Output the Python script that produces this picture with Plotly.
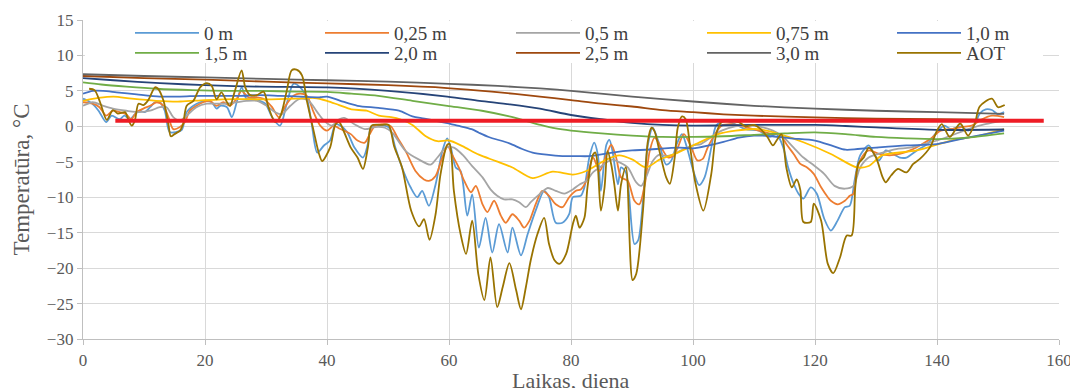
import plotly.graph_objects as go

# ---------------- data ----------------
series_names = ["0 m", "0,25 m", "0,5 m", "0,75 m", "1,0 m",
                "1,5 m", "2,0 m", "2,5 m", "3,0 m", "AOT"]

d_0m = [0, 0.8, 1.9, 2.7, 3.8, 4.7, 6, 6.8, 7.7, 8.5, 9.3, 10.1, 11, 11.8, 12.6, 13.4, 14.2, 15.3, 16.2, 17,
        18.1, 19.2, 20.3, 21.1, 21.9, 22.5, 23.6, 24.4, 25.2, 26, 26.8, 28, 29, 29.9, 31, 32.3, 33.4, 34.5,
        35.6, 36.7, 37.5, 38.4, 39.5, 40.5, 41.4, 42.2, 43.3, 44.5, 45.9, 46.7, 47.3, 49.5, 50.3, 51.2, 52.3,
        53.7, 54.8, 55.6, 56.7, 57.8, 58.9, 59.7, 60.3, 61.1, 61.9, 63, 63.8, 64.9, 66, 67.1, 68.2, 69.6,
        70.4, 71.8, 72.9, 74.2, 75.6, 76.4, 77.5, 78.6, 79.7, 80.3, 81.6, 82.2, 83, 83.8, 84.4, 84.9, 85.8,
        86.3, 86.8, 87.7, 88.2, 89, 90.4, 91, 91.8, 92.6, 93.4, 94.5, 95.6, 96.4, 97.3, 98.2, 99, 100.2,
        101, 101.9, 103, 103.8, 105.2, 106.9, 108.6, 110.8, 112.5, 113.7, 114.8, 115.6, 116.5, 117.3, 118.1,
        119.3, 120.3, 121.5, 122.6, 123.7, 124.9, 125.7, 126.5, 127.4, 128.8, 129.7, 130.5, 131.6, 132.8,
        133.9, 135, 136.7, 138.4, 140, 141.2, 142.3, 143.8, 145.1, 146.2, 147, 148, 149, 150, 151]
v_0m = [3.9, 3.6, 2.9, 2.0, 0.6, 1.5, 1.0, 1.5, 1.0, 1.7, 2.2, 2.0, 2.7, 3.4, 3.4, 2.2, -0.8, -0.8, -0.5, 2.0,
        2.9, 3.4, 3.6, 3.4, 2.5, 2.9, 2.7, 1.3, 3.4, 5.5, 3.9, 3.9, 3.6, 3.2, 1.3, 0.1, 3.2, 6.0,
        5.5, 3.9, 0.3, -3.7, -2.7, -2.0, 0.3, 0.1, -0.8, -3.0, -4.4, -2.5, 0.0, 0.1, -0.3, -3.0, -5.8,
        -8.6, -10.0, -9.1, -11.2, -8.2, -3.5, -1.7, -3.0, -5.8, -6.3, -12.6, -9.6, -17.1, -12.9, -17.8, -13.8, -17.8,
        -14.3, -18.2, -15.2, -11.9, -9.1, -10.0, -13.6, -13.6, -12.4, -10.0, -9.8, -8.6, -4.4, -2.3, -4.0, -9.1, -2.6,
        -1.9, -3.5, -8.2, -5.8, -6.5, -16.6, -16.1, -10.5, -2.6, -0.2, -2.6, -5.4, -4.9, -2.6, -1.1, -3.0, -6.7,
        -8.3, -7.2, -3.0, 0.1, 0.8, 0.3, -0.4, -0.6, -1.5, -1.1, -3.0, -5.8, -8.1, -9.5, -10.2,
        -8.6, -9.5, -13.0, -14.7, -13.3, -11.4, -11.2, -7.6, -4.1, -2.7, -3.9, -4.8, -3.4, -3.9,
        -4.4, -4.4, -3.4, -2.5, -0.8, 0.1, -0.4, 0.0, -0.6, 0.3, 1.8, 2.4, 2.3, 1.7, 2.0]

d_025 = [0, 1.6, 2.7, 3.8, 4.9, 6, 7.1, 7.9, 8.8, 9.9, 11, 12.1, 13.2, 14, 14.8, 15.9, 16.7, 17.5, 18.6, 19.7,
         20.8, 21.9, 23, 24.1, 25.2, 26, 27.1, 28.5, 29.6, 31, 32.1, 33.2, 34.5, 35.6, 36.7, 37.8, 38.9, 40,
         41.1, 42, 43.9, 45, 46.2, 47, 47.9, 49.5, 50.5, 51.5, 52.9, 54.5, 55.9, 56.7, 57.8, 58.9, 59.8, 60.5,
         61.6, 62.5, 63.6, 64.4, 65.5, 66.3, 67.4, 68.5, 69.3, 70.4, 71.5, 72.3, 73.2, 74.2, 75.3, 76.4, 77.5,
         78.6, 79.7, 80.8, 81.6, 82.5, 83.6, 84.7, 85.8, 86.6, 87.4, 88.2, 89.3, 90.4, 91.2, 92.1, 92.9, 93.7,
         94.8, 95.9, 96.7, 97.5, 98.5, 99.6, 100.7, 101.6, 102.4, 103.6, 104.7, 106.3, 108.6, 110.8, 113.1,
         114.2, 115.3, 116.5, 117.6, 118.7, 119.8, 121, 122.1, 122.6, 123.7, 124.9, 125.7, 126.3, 126.8, 127.4,
         128.8, 130.5, 132.2, 133.9, 135.6, 137.2, 138.9, 140.6, 142.3, 144, 145.7, 147.4, 149, 151]
v_025 = [3.4, 3.2, 2.7, 1.5, 2.2, 2.0, 1.7, 1.0, 2.0, 2.5, 2.9, 3.4, 2.9, 1.3, -0.4, -0.1, 0.6, 2.2, 2.9, 3.4,
         3.6, 2.9, 3.4, 2.9, 3.9, 5.0, 4.1, 4.1, 3.9, 2.7, 1.3, 2.9, 4.3, 4.6, 4.3, 2.0, 0.1, -0.6,
         0.1, -0.3, -1.1, -2.0, -2.3, -1.1, 0.1, 0.3, 0.0, -1.5, -3.5, -6.3, -7.5, -7.7, -7.0, -4.4, -2.8, -4.0,
         -5.8, -7.7, -9.3, -8.4, -11.0, -12.1, -10.5, -12.6, -13.6, -12.4, -13.3, -14.3, -13.3, -11.0, -9.1, -9.8, -11.0,
         -11.4, -10.0, -9.1, -8.9, -7.7, -4.4, -6.3, -4.0, -2.6, -4.4, -7.2, -7.7, -10.5, -11.0, -8.2, -3.5, -1.6,
         -3.0, -4.4, -4.2, -3.0, -1.1, -2.7, -4.8, -4.6, -3.0, -1.1, 0.1, 0.3, -0.1, -0.6, -1.1,
         -1.1, -2.5, -3.9, -5.3, -5.8, -6.7, -8.6, -10.0, -10.5, -11.0, -10.5, -9.8, -9.5, -6.5, -4.8,
         -3.4, -3.9, -4.1, -3.9, -3.4, -2.7, -1.8, -0.6, -0.4, -0.1, 0.1, 1.0, 1.5, 1.3]

d_05 = [0, 1.6, 3.3, 4.9, 7.1, 9.3, 11, 12.6, 13.7, 14.8, 15.9, 17, 18.6, 20.3, 21.9, 23.6, 25.2, 26.8, 28.5,
        30.1, 31.5, 32.6, 34, 35.6, 37, 38.4, 39.5, 40.8, 42, 42.8, 44.5, 46.2, 47.9, 49.5, 50.7, 52.9, 55.1,
        57, 58.1, 59.5, 60.8, 62.2, 63.8, 65.5, 66.8, 67.9, 69, 70.4, 71.5, 72.6, 73.4, 74.8, 76.2, 77.5,
        78.9, 80.3, 81.4, 82.5, 83.6, 84.7, 85.8, 86.8, 88, 89.3, 90.7, 91.5, 92.3, 93.4, 94.5, 95.6, 96.7,
        97.8, 100, 101.3, 103, 104.7, 106.9, 109.7, 113.1, 114.8, 116.5, 118.1, 119.8, 121.5, 123.2, 124.9,
        126.3, 127.4, 128.8, 131.1, 133.3, 135.6, 137.8, 140, 142.3, 145.1, 147.9, 151]
v_05 = [2.9, 3.4, 2.9, 2.5, 2.2, 2.0, 2.2, 2.7, 2.7, 1.3, 0.8, 1.5, 2.7, 3.2, 3.2, 3.2, 3.4, 3.6, 3.6,
        2.9, 2.0, 1.7, 2.9, 3.9, 3.6, 2.0, 0.8, 0.1, 1.0, 1.2, 0.3, -0.4, -0.1, -0.2, -0.9, -3.5, -4.7,
        -5.4, -4.4, -3.0, -3.0, -4.0, -5.6, -7.2, -8.9, -9.8, -10.3, -10.3, -10.7, -11.4, -10.7, -9.6, -8.7, -9.1,
        -9.5, -8.9, -8.2, -7.7, -6.5, -5.8, -5.1, -4.7, -5.1, -5.8, -7.9, -8.4, -7.2, -4.9, -4.0, -4.2, -4.0,
        -3.5, -2.7, -2.5, -1.5, -0.6, 0.0, 0.1, -0.6, -1.5, -3.0, -4.4, -5.5, -6.7, -8.4, -8.8,
        -8.4, -5.8, -4.4, -3.7, -3.2, -3.0, -2.5, -2.0, -1.3, -0.4, 0.3, 0.8]

d_075 = [0, 2.5, 5, 8, 12, 16, 20, 25, 30, 35, 38, 40, 42, 44, 46.5, 48.5, 50.5, 52, 54, 56.2, 58.1, 60,
         62.2, 64.9, 67.7, 70.4, 73.7, 77, 80.3, 82.5, 85.8, 87.9, 90.1, 92.3, 94.5, 96.7, 100, 104.1, 107,
         110.8, 114.2, 118.1, 122.6, 126.9, 128.8, 131, 136.7, 142.3, 147, 151]
v_075 = [3.6, 4.0, 4.2, 3.9, 3.6, 3.5, 3.7, 3.85, 3.8, 3.9, 4.0, 3.6, 3.0, 2.4, 2.2, 1.5, 1.3, 1.0, 0.2, -1.4,
         -2.1, -2.0, -2.8, -4.0, -4.9, -5.8, -7.3, -6.4, -6.8, -6.3, -4.7, -4.1, -4.7, -5.8, -4.7, -4.0, -2.7,
         -1.1, -0.6, -0.4, -1.1, -2.25, -3.9, -5.8, -5.6, -4.1, -3.4, -2.0, -1.3, -0.4]

d_10 = [0, 1.6, 3.3, 5.5, 8.8, 12.6, 15.9, 19.2, 22.5, 25.8, 29, 32.3, 35.6, 38.9, 40, 42.2, 45, 48.4, 51.8,
        54, 56, 59.5, 61.4, 63.7, 64.9, 66.5, 69.9, 72, 73.7, 76, 78.6, 81, 83, 86.8, 90, 92.3, 97.8, 100,
        103, 105, 107.5, 110, 113, 116, 120, 123, 125, 127, 130, 135, 140, 145, 151]
v_10 = [4.6, 5.0, 5.0, 4.8, 4.5, 4.2, 4.2, 4.3, 4.3, 4.3, 4.4, 4.3, 4.2, 4.1, 4.2, 3.6, 2.9, 2.6, 2.2,
        1.4, 1.1, 0.5, 0.1, -0.4, -0.9, -1.5, -2.4, -3.2, -3.7, -4.0, -4.2, -4.2, -4.2, -3.7, -3.4, -3.3, -3.0, -3.1,
        -2.6, -2.2, -1.6, -1.3, -1.4, -1.7, -2.0, -2.8, -3.3, -3.2, -3.0, -2.7, -2.5, -1.6, -0.6]

d_15 = [0, 3, 7.1, 12, 18, 24, 29, 35, 40, 44, 48.4, 54, 59.7, 65.4, 69.9, 72.5, 75, 77.5, 80, 85, 90, 95,
        100, 105, 110, 115, 120, 125, 130, 135, 140, 145, 151]
v_15 = [6.2, 5.9, 5.6, 5.3, 5.1, 5.0, 5.0, 4.9, 4.85, 4.6, 4.3, 3.6, 2.9, 2.2, 1.4, 0.8, 0.2, -0.3, -0.6, -1.0,
        -1.3, -1.5, -1.5, -1.4, -1.2, -1.0, -0.85, -1.1, -1.5, -1.7, -1.8, -1.6, -1.0]

d_20 = [0, 5, 12.6, 20, 29, 40, 50, 59.7, 65, 70, 74.9, 80, 85, 90, 95, 100, 110, 120, 125, 130, 140, 151]
v_20 = [6.8, 6.5, 6.1, 5.8, 5.6, 5.5, 5.0, 4.2, 3.6, 3.1, 2.5, 1.6, 1.0, 0.5, 0.2, 0.1, 0.2, 0.2, 0.05, -0.15,
        -0.5, -0.45]

d_25 = [0, 10, 20, 30, 40, 50, 59.7, 67, 74.9, 80, 85, 90, 95, 100, 105, 110, 120, 130, 140, 151]
v_25 = [7.1, 6.8, 6.6, 6.3, 6.05, 5.8, 5.4, 4.9, 4.2, 3.7, 3.2, 2.8, 2.3, 2.0, 1.7, 1.5, 1.25, 1.1, 1.0, 0.9]

d_30 = [0, 10, 20, 30, 40, 50, 60, 68, 74.9, 80, 90, 100, 110, 120, 130, 140, 151]
v_30 = [7.35, 7.1, 6.9, 6.7, 6.5, 6.3, 6.0, 5.7, 5.35, 5.0, 4.2, 3.5, 2.9, 2.5, 2.2, 2.0, 1.75]

d_aot = [1, 1.9, 2.8, 3.9, 4.9, 5.7, 6.9, 7.4, 8.0, 8.5, 9.1, 9.9, 10.7, 11.8, 12.3, 13.2, 14.0, 14.4, 15,
         15.9, 16.4, 17, 18.1, 19.2, 20.3, 21.1, 21.9, 22.7, 23.6, 24.1, 24.9, 26, 26.6, 27.4, 28.5, 29.6,
         30.4, 31.5, 32.3, 33.4, 34.2, 35, 35.9, 36.7, 37.8, 38.7, 39.2, 40.5, 41.4, 42, 42.8, 43.9, 45, 45.9,
         46.7, 47.3, 49, 50.1, 51, 52.3, 53.8, 55.1, 55.9, 56.8, 57.8, 58.6, 59.7, 60.1, 60.8, 61.9, 62.8,
         63.8, 64.8, 65.8, 66.8, 67.9, 68.8, 69.9, 71, 71.8, 72.6, 73.4, 74.5, 75.6, 76.4, 77.3, 78.1, 79.2,
         80.3, 80.8, 81.4, 82.2, 82.7, 83.6, 84, 84.4, 84.9, 85.5, 86, 86.6, 87.1, 87.7, 88.2, 89, 90.1, 90.7,
         91.8, 92.6, 93.2, 93.7, 94.5, 95.6, 96.2, 97, 97.5, 98.2, 98.8, 99.6, 100.4, 101.7, 103, 103.8,
         104.7, 105.5, 107.5, 108.6, 110, 111.1, 112.2, 113.1, 113.7, 114.5, 115.3, 116.2, 117, 117.6, 118.1,
         119.3, 119.8, 121, 122.1, 123, 124.1, 125.2, 126, 126.6, 127.1, 128, 128.8, 130, 131.1, 131.6,
         132.5, 133.6, 135, 136.1, 137.2, 138.9, 140, 140.8, 142.1, 143.8, 145.1, 146.2, 147, 149, 150, 151.1]
v_aot = [5.3, 5.1, 3.4, 0.9, 2.3, 1.8, 2.0, 1.0, 0.1, 0.8, 3.2, 3.0, 3.7, 5.5, 5.3, 3.6, 0.3, -1.4, -1.1,
         -0.6, 0.3, 2.9, 3.6, 5.5, 6.1, 5.7, 3.8, 4.8, 3.4, 2.9, 5.0, 7.9, 5.5, 4.4, 4.4, 4.9,
         2.7, 0.6, 1.3, 5.0, 7.9, 8.0, 7.2, 3.6, -0.6, -3.9, -4.9, -3.0, 0.3, 0.6, -0.8, -3.0, -4.4, -6.0,
         -3.0, 0.1, 0.2, 0.2, -2.8, -5.8, -11.9, -14.1, -13.1, -16.0, -12.4, -6.8, -2.6, -2.5, -9.1, -15.2, -18.0,
         -13.3, -20.8, -24.5, -18.5, -25.5, -22.7, -19.3, -23.1, -25.8, -22.7, -18.9, -15.2, -12.9, -16.6, -18.9, -19.4, -18.0,
         -13.8, -12.6, -14.3, -12.9, -8.6, -4.0, -3.7, -5.8, -11.9, -8.6, -3.5, -5.4, -8.2, -11.9, -8.2, -5.8, -21.7, -20.8,
         -11.9, -2.1, -0.2, -0.7, -3.5, -7.2, -8.1, -4.4, -0.2, 1.4, 1.0, -3.4, -8.0, -11.9, -6.7, -1.1,
         0.6, 0.7, 0.6, 0.0, 0.2, -0.4, -1.5, -2.7, -2.0, -1.1, -5.8, -8.6, -7.5, -9.0, -13.5,
         -13.5, -10.9, -13.3, -19.4, -20.7, -18.5, -15.4, -15.4, -8.6, -5.3, -4.4, -3.0, -4.4, -7.2, -7.9,
         -6.9, -6.0, -6.5, -5.3, -4.6, -2.9, -0.6, 0.3, -1.5, 0.4, -1.3, 0.4, 2.8, 3.9, 2.7, 3.0]

# red threshold line
red_days = [5.3, 157.5]
red_vals = [0.8, 0.8]

x_ticks = [0, 20, 40, 60, 80, 100, 120, 140, 160]
y_ticks = [-30, -25, -20, -15, -10, -5, 0, 5, 10, 15]

days = [d_0m, d_025, d_05, d_075, d_10, d_15, d_20, d_25, d_30, d_aot]
vals = [v_0m, v_025, v_05, v_075, v_10, v_15, v_20, v_25, v_30, v_aot]
colors = ["#5B9BD5", "#ED7D31", "#A5A5A5", "#FFC000", "#4472C4",
          "#70AD47", "#264478", "#9E480E", "#636363", "#997300"]

# ---------------- figure ----------------
# the page body adds an 8 px offset; target screen positions are compensated here
OFF = 8
W, H = 1078, 388
ML = 83 - OFF          # plot left on screen = 83
MT = 20 - OFF          # plot top on screen = 20
PR = 1059 - OFF        # plot right on screen = 1059
PB = 339 - OFF         # plot bottom on screen = 339
MR = W - PR
MB = H - PB
pw = PR - ML
ph = PB - MT

fig = go.Figure()
FONT = "'Liberation Serif', 'DejaVu Serif', 'Noto Serif', serif"

for i, (name, dx, vy, col) in enumerate(zip(series_names, days, vals, colors)):
    fig.add_trace(go.Scatter(
        x=dx, y=vy, name=name, mode="lines",
        line=dict(color=col, width=1.8, shape="spline", smoothing=0.8),
        legend="legend" if i == 0 else f"legend{i+1}",
    ))

fig.add_trace(go.Scatter(x=red_days, y=red_vals, mode="lines", showlegend=False,
                         line=dict(color="#EE1C25", width=4)))

# legend placement: 5 columns x 2 rows (screen px of the legend line start / row centre)
col_px = [135, 325, 516, 707, 897]
row_py = [33, 53]
leg_layout = {}
for i in range(10):
    r, c = divmod(i, 5)
    lx = (col_px[c] - OFF - 5 - ML) / pw
    ly = 1 - (row_py[r] - OFF - MT) / ph
    key = "legend" if i == 0 else f"legend{i+1}"
    leg_layout[key] = dict(
        x=lx, y=ly, xanchor="left", yanchor="middle",
        orientation="h", bgcolor="rgba(0,0,0,0)", borderwidth=0,
        itemwidth=64, font=dict(family=FONT, size=19, color="#404040"),
    )

fig.update_layout(**leg_layout)

# white legend box
fig.add_shape(type="rect", xref="paper", yref="paper",
              x0=(85 - OFF - ML) / pw, x1=(1043 - OFF - ML) / pw,
              y0=1 - (63 - OFF - MT) / ph, y1=1 - (21 - OFF - MT) / ph,
              fillcolor="white", line=dict(width=0), layer="above")

# x-axis title as annotation (sits low, partly clipped like the reference)
fig.add_annotation(text="Laikas, diena", xref="paper", yref="paper",
                   x=0.5, y=-(380 - OFF - PB) / ph, xanchor="center", yanchor="middle",
                   showarrow=False, font=dict(family=FONT, size=22, color="#595959"))

fig.update_layout(
    width=W, height=H,
    margin=dict(l=ML, r=MR, t=MT, b=MB, autoexpand=False),
    paper_bgcolor="white", plot_bgcolor="white",
    font=dict(family=FONT, color="#595959"),
    showlegend=True,
)

fig.update_xaxes(
    range=[0, 160], tickvals=x_ticks, ticktext=[str(t) for t in x_ticks],
    showgrid=True, gridcolor="#D9D9D9", gridwidth=1,
    showline=True, linecolor="#BFBFBF", linewidth=1.3,
    ticks="outside", ticklen=5, tickcolor="#BFBFBF",
    zeroline=False,
    tickfont=dict(family=FONT, size=17, color="#595959"),
)
fig.update_yaxes(
    range=[-30, 15], tickvals=y_ticks,
    showgrid=True, gridcolor="#D9D9D9", gridwidth=1,
    showline=True, linecolor="#BFBFBF", linewidth=1.3,
    ticks="outside", ticklen=5, tickcolor="#BFBFBF",
    zeroline=False,
    tickfont=dict(family=FONT, size=17, color="#595959"),
    title=dict(text="Temperatūra, °C", font=dict(family=FONT, size=23, color="#595959"), standoff=10),
)

fig.write_html("out.html")
